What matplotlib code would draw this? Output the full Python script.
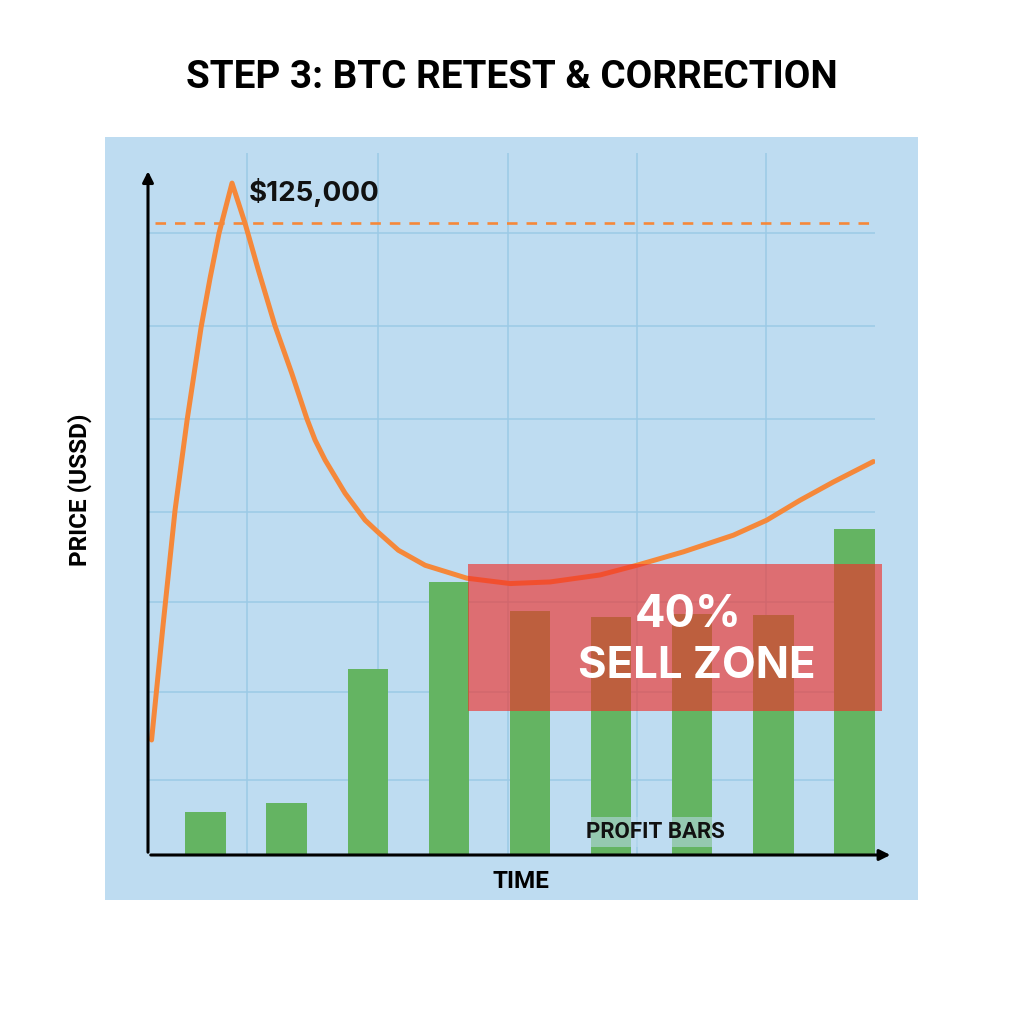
import matplotlib.pyplot as plt
from matplotlib.patches import Rectangle

# Price path (time units, price in $k)
line_x = [0.334, 0.476, 0.624, 0.772, 0.945, 1.055, 1.166, 1.326,
          1.487, 1.651, 1.857, 2.063, 2.248, 2.350, 2.473, 2.720, 2.967, 3.123, 3.377,
          3.707, 4.221, 4.755, 5.248, 5.864, 6.317, 6.891, 7.508, 7.920, 8.330,
          8.741, 9.234]
line_y = [21.4, 42.8, 64.2, 80.9, 98.2, 107.3, 115.7, 125.0,
          117.5, 108.8, 98.4, 89.6, 81.2, 77.2, 73.5, 67.3, 62.3, 60.1, 56.7,
          53.9, 51.5, 50.5, 50.8, 52.1, 53.9, 56.4, 59.5, 62.3, 66.0,
          69.4, 73.2]

# Profit bars
bar_x = [1, 2, 3, 4, 5, 6, 7, 8, 9]
bar_h = [8.0, 9.7, 34.6, 50.8, 45.4, 44.3, 44.8, 44.6, 60.6]

resistance = 117.6
peak_label = "$125,000"
zone_x = [4.24, 9.34]
zone_y = [26.8, 54.1]

grid_x = [1.51, 3.12, 4.73, 6.32, 7.91]
grid_y = [14.0, 30.3, 47.1, 63.8, 81.1, 98.4, 115.7]

BG = '#bedcf1'
ORANGE = '#f5883a'
GREEN = '#64b462'
RED = '#f0302a'

fig = plt.figure(figsize=(10.24, 10.24), dpi=100)
fig.patches.append(Rectangle((105/1024, 124/1024), 813/1024, 763/1024,
                             transform=fig.transFigure, facecolor=BG,
                             edgecolor='none', zorder=-1))

ax = fig.add_axes([148/1024, 169/1024, 727/1024, 702/1024])
ax.set_zorder(2)
ax.set_facecolor('none')
ax.set_xlim(0.29, 9.254)
ax.set_ylim(0, 130.6)
for s in ax.spines.values():
    s.set_visible(False)
ax.set_xticks(grid_x)
ax.set_yticks(grid_y)
ax.tick_params(length=0, labelbottom=False, labelleft=False)
ax.grid(True, color='#9ccae6', lw=1.1)
ax.set_axisbelow(True)

ax.bar(bar_x, bar_h, width=0.5, color=GREEN, zorder=2)
ax.plot(line_x, line_y, color=ORANGE, lw=3.6, solid_joinstyle='round',
        solid_capstyle='round', zorder=3)
ax.plot([0.375, 9.25], [resistance, resistance], color=ORANGE, lw=1.9,
        dashes=(4, 3.4), zorder=3)
ax.text(1.53, 123.3, peak_label, fontsize=20, fontweight='bold',
        family='Inter', va='center', ha='left', color='#111111', zorder=5)

ax.add_patch(Rectangle((zone_x[0], zone_y[0]), zone_x[1] - zone_x[0],
                       zone_y[1] - zone_y[0], facecolor=RED, alpha=0.64,
                       edgecolor='none', zorder=4, clip_on=False))
ax.text(6.95, 44.6, "40%", fontsize=32.5, fontweight='bold', family='Inter',
        color='white', ha='center', va='center', zorder=6)
ax.text(7.06, 35.0, "SELL ZONE", fontsize=31.5, fontweight='bold', family='Inter',
        color='white', ha='center', va='center', zorder=6)

ax.text(6.55, 4.3, "PROFIT BARS", fontsize=16, fontweight='bold',
        family='Roboto', color='#111111', ha='center', va='center', zorder=6,
        bbox=dict(facecolor=BG, alpha=0.55, edgecolor='none', pad=3))

# axis arrows
ax.annotate('', xy=(0, 0.978), xytext=(0, 0), xycoords='axes fraction',
            arrowprops=dict(arrowstyle='-|>', color='black', lw=2.2,
                            mutation_scale=16), zorder=7)
ax.annotate('', xy=(1.025, 0), xytext=(0, 0), xycoords='axes fraction',
            arrowprops=dict(arrowstyle='-|>', color='black', lw=2.2,
                            mutation_scale=16), zorder=7)

fig.text(521/1024, 1 - 881/1024, "TIME", fontsize=17.5, fontweight='bold',
         family='Roboto', ha='center', va='center')
fig.text(80/1024, 1 - 490/1024, "PRICE (USSD)", fontsize=17.5, fontweight='bold',
         family='Roboto', ha='center', va='center', rotation=90)
fig.text(0.5, 1 - 77/1024, "STEP 3: BTC RETEST & CORRECTION", fontsize=27.8,
         fontweight='bold', family='Roboto', ha='center', va='center')

fig.savefig('out.png', dpi=100, facecolor='white')
